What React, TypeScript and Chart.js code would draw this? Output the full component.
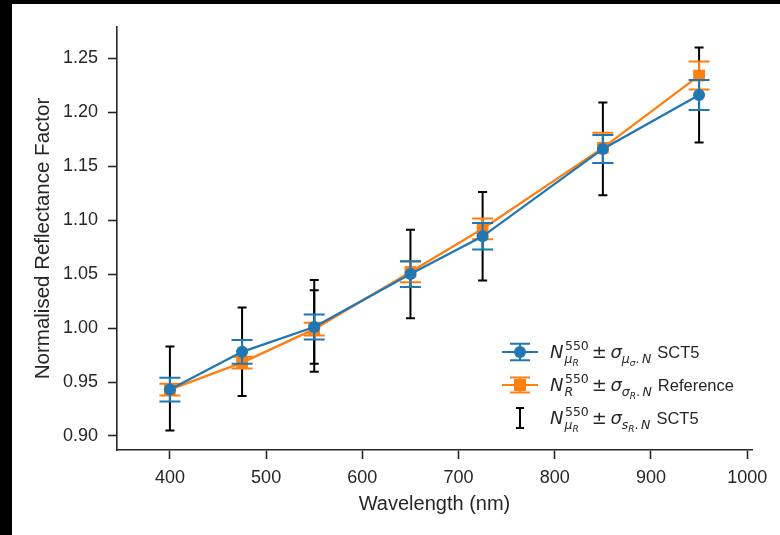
import React, { useEffect, useRef } from "react";
import { Chart, registerables } from "chart.js";

Chart.register(...registerables);

// ---------- data ----------
const wavelengths = [400, 475, 550, 650, 725, 850, 950];
const sctMean = [0.943, 0.978, 1.001, 1.050, 1.085, 1.166, 1.216];
const sctMeanErr = [0.011, 0.011, 0.0115, 0.012, 0.0123, 0.013, 0.014];
const refMean = [0.943, 0.968, 0.999, 1.052, 1.092, 1.167, 1.234];
const refErr = [0.0055, 0.0055, 0.006, 0.0096, 0.0096, 0.014, 0.013];
const spatialWl = [400, 475, 550, 550, 650, 725, 850, 950];
const spatialMean = [0.944, 0.978, 1.002, 1.001, 1.050, 1.085, 1.166, 1.216];
const spatialErr = [0.039, 0.041, 0.0425, 0.034, 0.041, 0.041, 0.043, 0.044];
const xTicks = [400, 500, 600, 700, 800, 900, 1000];
const yTicks = [0.9, 0.95, 1.0, 1.05, 1.1, 1.15, 1.2, 1.25];
const xLabel = "Wavelength (nm)";
const yLabel = "Normalised Reflectance Factor";

const BLUE = "#1f77b4";
const ORANGE = "#ff7f0e";
const BLACK = "#000000";
const TEXT = "#262626";
const FONT = '"Liberation Sans", Arial, sans-serif';
const MATH = '"DejaVu Sans", sans-serif';

const toPts = (xs: number[], ys: number[]) => xs.map((x, i) => ({ x, y: ys[i] }));

const errorBarPlugin = {
  id: "errorBars",
  beforeDatasetDraw(chart: any, args: any) {
    const ds: any = chart.data.datasets[args.index];
    if (!ds.errors) return;
    const xs = chart.scales.x;
    const ys = chart.scales.y;
    const ctx = chart.ctx;
    ctx.save();
    ctx.strokeStyle = ds.errColor;
    ctx.lineWidth = ds.errWidth;
    ctx.lineCap = "butt";
    ds.data.forEach((p: any, i: number) => {
      const x = xs.getPixelForValue(p.x);
      const yTop = ys.getPixelForValue(p.y + ds.errors[i]);
      const yBot = ys.getPixelForValue(p.y - ds.errors[i]);
      const c = ds.capHalf;
      ctx.beginPath();
      ctx.moveTo(x, yTop);
      ctx.lineTo(x, yBot);
      ctx.moveTo(x - c, yTop);
      ctx.lineTo(x + c, yTop);
      ctx.moveTo(x - c, yBot);
      ctx.lineTo(x + c, yBot);
      ctx.stroke();
    });
    ctx.restore();
  },
};

interface Part {
  t: string;
  size: number;
  it?: boolean;
  dy?: number;
  mark?: boolean;
  back?: boolean;
  afterMax?: boolean;
  gap?: number;
  plain?: boolean;
}

function drawParts(ctx: CanvasRenderingContext2D, x0: number, base: number, parts: Part[]) {
  let x = x0;
  let mark = x0;
  let maxX = x0;
  for (const p of parts) {
    if (p.afterMax) x = maxX;
    if (p.back) x = mark;
    if (p.mark) mark = x;
    x += p.gap || 0;
    ctx.font = `${p.it ? "italic " : ""}${p.size}px ${p.plain ? FONT : MATH}`;
    ctx.fillText(p.t, x, base + (p.dy || 0));
    x += ctx.measureText(p.t).width;
    maxX = Math.max(maxX, x);
  }
  return maxX;
}

const prefix = (sub: Part[]): Part[] => [
  { t: "N", size: 18, it: true },
  { t: "550", size: 12.5, dy: -8, mark: true, gap: 1.5 },
  ...sub,
];

const legendEntries: { kind: string; parts: Part[] }[] = [
  {
    kind: "blue",
    parts: [
      ...prefix([
        { t: "μ", size: 12.5, it: true, dy: 5, back: true, gap: 1 },
        { t: "R", size: 9, it: true, dy: 8 },
      ]),
      { t: "±", size: 18, afterMax: true, gap: 3 },
      { t: "σ", size: 18, it: true, gap: 3.5 },
      { t: "μ", size: 12.5, it: true, dy: 5 },
      { t: "σ", size: 9, it: true, dy: 8 },
      { t: ".", size: 12.5, dy: 5 },
      { t: "N", size: 12.5, it: true, dy: 5, gap: 2.5 },
      { t: "SCT5", size: 16.5, gap: 6, plain: true },
    ],
  },
  {
    kind: "orange",
    parts: [
      ...prefix([{ t: "R", size: 12.5, it: true, dy: 5, back: true, gap: 1 }]),
      { t: "±", size: 18, afterMax: true, gap: 3 },
      { t: "σ", size: 18, it: true, gap: 3.5 },
      { t: "σ", size: 12.5, it: true, dy: 5 },
      { t: "R", size: 9, it: true, dy: 8 },
      { t: ".", size: 12.5, dy: 5 },
      { t: "N", size: 12.5, it: true, dy: 5, gap: 2.5 },
      { t: "Reference", size: 16.5, gap: 6, plain: true },
    ],
  },
  {
    kind: "black",
    parts: [
      ...prefix([
        { t: "μ", size: 12.5, it: true, dy: 5, back: true, gap: 1 },
        { t: "R", size: 9, it: true, dy: 8 },
      ]),
      { t: "±", size: 18, afterMax: true, gap: 3 },
      { t: "σ", size: 18, it: true, gap: 3.5 },
      { t: "s", size: 12.5, it: true, dy: 5 },
      { t: "R", size: 9, it: true, dy: 8 },
      { t: ".", size: 12.5, dy: 5 },
      { t: "N", size: 12.5, it: true, dy: 5, gap: 2.5 },
      { t: "SCT5", size: 16.5, gap: 6, plain: true },
    ],
  },
];

const legendPlugin = {
  id: "mathLegend",
  afterDraw(chart: any) {
    const ctx: CanvasRenderingContext2D = chart.ctx;
    const hx = 508; // handle centre x
    const textX = 538;
    const centers = [348, 381, 414];
    ctx.save();
    legendEntries.forEach((e, i) => {
      const cy = centers[i];
      if (e.kind === "blue" || e.kind === "orange") {
        const col = e.kind === "blue" ? BLUE : ORANGE;
        const h = e.kind === "blue" ? 8.3 : 7.5;
        ctx.strokeStyle = col;
        ctx.lineWidth = 2;
        ctx.beginPath();
        ctx.moveTo(hx, cy - h);
        ctx.lineTo(hx, cy + h);
        ctx.moveTo(hx - 10, cy - h);
        ctx.lineTo(hx + 10, cy - h);
        ctx.moveTo(hx - 10, cy + h);
        ctx.lineTo(hx + 10, cy + h);
        ctx.moveTo(hx - 18, cy);
        ctx.lineTo(hx + 18, cy);
        ctx.stroke();
        ctx.fillStyle = col;
        ctx.beginPath();
        if (e.kind === "blue") {
          ctx.arc(hx, cy, 6, 0, Math.PI * 2);
        } else {
          ctx.rect(hx - 6, cy - 6, 12, 12);
        }
        ctx.fill();
      } else {
        ctx.strokeStyle = BLACK;
        ctx.lineWidth = 2;
        ctx.beginPath();
        ctx.moveTo(hx, cy - 10);
        ctx.lineTo(hx, cy + 10);
        ctx.moveTo(hx - 4, cy - 10);
        ctx.lineTo(hx + 4, cy - 10);
        ctx.moveTo(hx - 4, cy + 10);
        ctx.lineTo(hx + 4, cy + 10);
        ctx.stroke();
      }
      ctx.fillStyle = TEXT;
      ctx.textBaseline = "alphabetic";
      ctx.textAlign = "left";
      drawParts(ctx, textX, cy + 6, e.parts);
    });
    ctx.restore();
  },
};

export default function App() {
  const ref = useRef<HTMLCanvasElement | null>(null);

  useEffect(() => {
    if (!ref.current) return;
    const chart = new Chart(ref.current, {
      type: "line",
      data: {
        datasets: [
          {
            label: "sct mean",
            data: toPts(wavelengths, sctMean),
            borderColor: BLUE,
            backgroundColor: BLUE,
            borderWidth: 2.3,
            pointRadius: 6,
            pointBorderWidth: 0,
            pointBackgroundColor: BLUE,
            pointStyle: "circle",
            tension: 0,
            errors: sctMeanErr,
            errColor: BLUE,
            errWidth: 2,
            capHalf: 10.5,
          } as any,
          {
            label: "reference",
            data: toPts(wavelengths, refMean),
            borderColor: ORANGE,
            backgroundColor: ORANGE,
            borderWidth: 2.3,
            pointRadius: 8.3,
            pointBorderWidth: 0,
            pointBackgroundColor: ORANGE,
            pointStyle: "rect",
            tension: 0,
            errors: refErr,
            errColor: ORANGE,
            errWidth: 2,
            capHalf: 10.5,
          } as any,
          {
            label: "sct spatial",
            data: toPts(spatialWl, spatialMean),
            showLine: false,
            pointRadius: 0,
            borderColor: BLACK,
            errors: spatialErr,
            errColor: BLACK,
            errWidth: 2,
            capHalf: 4.5,
          } as any,
        ],
      },
      options: {
        animation: false,
        responsive: false,
        maintainAspectRatio: false,
        devicePixelRatio: 1,
        layout: { padding: { left: 0, top: 23, right: 28, bottom: 0 } },
        plugins: { legend: { display: false }, tooltip: { enabled: false } },
        scales: {
          x: {
            type: "linear",
            min: 345,
            max: 1005,
            afterBuildTicks: (s: any) => {
              s.ticks = xTicks.map((v) => ({ value: v }));
            },
            afterFit: (s: any) => {
              s.height = 85;
            },
            grid: {
              display: true,
              drawOnChartArea: false,
              drawTicks: true,
              tickLength: 9,
              tickWidth: 1.6,
              tickColor: TEXT,
            },
            border: { display: true, color: TEXT, width: 1.6 },
            ticks: {
              color: TEXT,
              font: { family: FONT, size: 18 },
              padding: 8,
              maxRotation: 0,
              autoSkip: false,
              callback: (v: any) => String(v),
            },
            title: {
              display: true,
              text: xLabel,
              color: TEXT,
              font: { family: FONT, size: 20 },
              padding: { top: 0, bottom: 19 },
            },
          },
          y: {
            type: "linear",
            min: 0.887,
            max: 1.279,
            afterBuildTicks: (s: any) => {
              s.ticks = yTicks.map((v) => ({ value: v }));
            },
            afterFit: (s: any) => {
              s.width = 105;
            },
            grid: {
              display: true,
              drawOnChartArea: false,
              drawTicks: true,
              tickLength: 9,
              tickWidth: 1.6,
              tickColor: TEXT,
            },
            border: { display: true, color: TEXT, width: 1.6 },
            ticks: {
              color: TEXT,
              font: { family: FONT, size: 18 },
              padding: 10,
              autoSkip: false,
              callback: (v: any) => Number(v).toFixed(2),
            },
            title: {
              display: true,
              text: yLabel,
              color: TEXT,
              font: { family: FONT, size: 20.5 },
              padding: { top: 19.5, bottom: 0 },
            },
          },
        },
      },
      plugins: [errorBarPlugin, legendPlugin],
    });
    return () => chart.destroy();
  }, []);

  return (
    <div style={{ position: "fixed", inset: 0, background: "#000" }}>
      <div
        style={{
          position: "absolute",
          left: 12,
          top: 4,
          width: 768,
          height: 531,
          background: "#fff",
        }}
      >
        <canvas ref={ref} width={768} height={531} style={{ display: "block" }} />
      </div>
    </div>
  );
}
